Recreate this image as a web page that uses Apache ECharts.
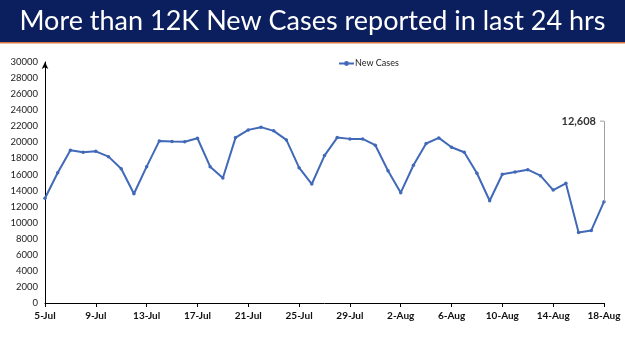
<!DOCTYPE html>
<html>
<head>
<meta charset="utf-8">
<script src="https://cdn.jsdelivr.net/npm/echarts@6/dist/echarts.min.js"></script>
<style>
  html, body { margin: 0; padding: 0; background: #fff; }
  #chart { width: 625px; height: 351px; }
</style>
</head>
<body>
<div id="chart"></div>
<script>
// dates, 5-Jul .. 18-Aug
var dates = [
  "5-Jul", "6-Jul", "7-Jul", "8-Jul", "9-Jul", "10-Jul", "11-Jul", "12-Jul",
  "13-Jul", "14-Jul", "15-Jul", "16-Jul", "17-Jul", "18-Jul", "19-Jul", "20-Jul",
  "21-Jul", "22-Jul", "23-Jul", "24-Jul", "25-Jul", "26-Jul", "27-Jul", "28-Jul",
  "29-Jul", "30-Jul", "31-Jul", "1-Aug", "2-Aug", "3-Aug", "4-Aug", "5-Aug",
  "6-Aug", "7-Aug", "8-Aug", "9-Aug", "10-Aug", "11-Aug", "12-Aug", "13-Aug",
  "14-Aug", "15-Aug", "16-Aug", "17-Aug", "18-Aug"
];

var newCases = [
  13040, 16220, 19010, 18770, 18880, 18220, 16720, 13600,
  16970, 20180, 20110, 20070, 20510, 16970, 15560, 20590,
  21550, 21890, 21430, 20300, 16850, 14810, 18350, 20590,
  20430, 20430, 19640, 16470, 13730, 17150, 19850, 20550,
  19390, 18770, 16150, 12730, 16020, 16310, 16600, 15850,
  14060, 14900, 8780, 9030, 12608
];

var yTicks = { min: 0, max: 30000, interval: 2000 };
var titleText = "More than 12K New Cases reported in last 24 hrs";
var lastDate = dates[dates.length - 1];
var lastValue = newCases[newCases.length - 1];

var myChart = echarts.init(document.getElementById("chart"));
var option = {
  animation: false,
  textStyle: { fontFamily: "Lato, 'Open Sans', sans-serif" },
  graphic: [
    { type: "rect", shape: { x: 0, y: 0, width: 625, height: 42 }, style: { fill: "#0b1f5e" } },
    { type: "rect", shape: { x: 0, y: 42, width: 625, height: 1.5 }, style: { fill: "#d9763f" } }
  ],
  title: {
    text: titleText,
    left: "center",
    top: 3,
    textStyle: { color: "#fff", fontSize: 27, fontWeight: "normal", fontFamily: "Lato, sans-serif" }
  },
  legend: {
    data: ["New Cases"],
    left: 333,
    top: 54,
    itemWidth: 15,
    itemHeight: 6,
    itemGap: 2,
    textStyle: { fontSize: 9, color: "#222", padding: [0, 0, 0, -4] }
  },
  grid: { left: 45, right: 21, top: 62, bottom: 48, containLabel: false },
  xAxis: {
    type: "category",
    boundaryGap: false,
    data: dates,
    axisLine: { lineStyle: { color: "#000", width: 1 } },
    axisTick: { show: true, interval: 3, length: 4, lineStyle: { color: "#000" } },
    axisLabel: { interval: 3, fontSize: 10, fontWeight: "bold", color: "#111", margin: 8 },
    splitLine: { show: false }
  },
  yAxis: {
    type: "value",
    min: yTicks.min,
    max: yTicks.max,
    interval: yTicks.interval,
    axisLine: { show: true, symbol: ["none", "arrow"], symbolSize: [5, 7], lineStyle: { color: "#000", width: 1 } },
    axisTick: { show: false },
    axisLabel: { fontSize: 9.5, color: "#222", margin: 7, formatter: function (v) { return String(v); } },
    splitLine: { show: false }
  },
  series: [
    {
      name: "New Cases",
      type: "line",
      data: newCases,
      symbol: "circle",
      symbolSize: 3.5,
      lineStyle: { color: "#4169b8", width: 2 },
      itemStyle: { color: "#4169b8" },
      markLine: {
        silent: true,
        symbol: "none",
        lineStyle: { color: "#a0a0a0", width: 1, type: "solid" },
        label: { show: false },
        data: [
          [{ coord: [lastDate, lastValue] }, { coord: [lastDate, 22640] }]
        ]
      },
      markPoint: {
        silent: true,
        symbol: "rect",
        symbolSize: [4, 1],
        symbolOffset: [-2, 0],
        itemStyle: { color: "#a0a0a0" },
        label: {
          show: true,
          position: "left",
          distance: 4,
          formatter: "12,608",
          fontSize: 11,
          fontWeight: "bold",
          color: "#333"
        },
        data: [{ coord: [lastDate, 22640] }]
      }
    }
  ]
};
option && myChart.setOption(option);
</script>
</body>
</html>
